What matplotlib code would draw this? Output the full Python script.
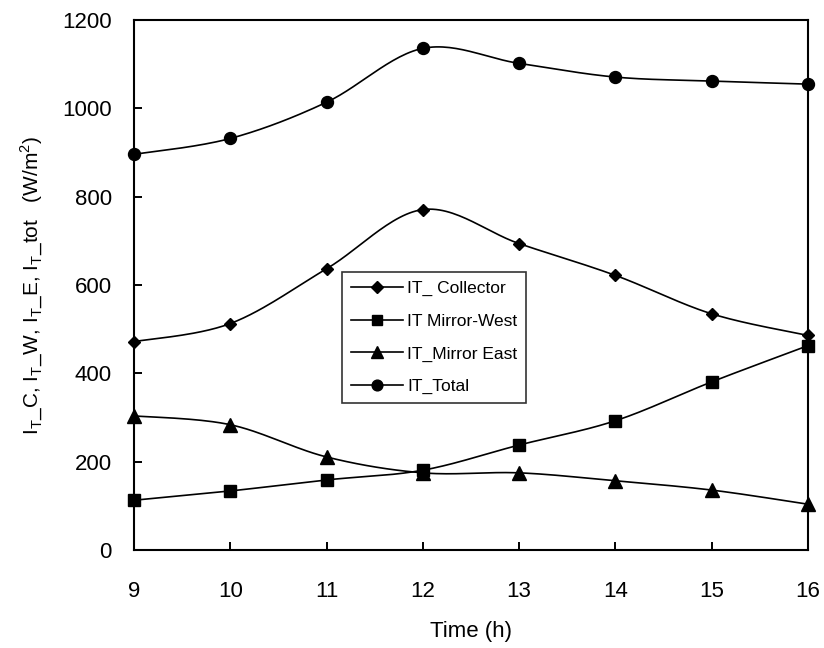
import numpy as np
import matplotlib.pyplot as plt

plt.rcParams['font.family'] = ['Liberation Sans', 'DejaVu Sans']

hours = [9, 10, 11, 12, 13, 14, 15, 16]
it_collector = [472, 513, 637, 771, 694, 622, 535, 486]
it_mirror_west = [113, 134, 159, 181, 238, 293, 381, 463]
it_mirror_east = [304, 284, 211, 175, 175, 157, 136, 104]
it_total = [896, 932, 1014, 1136, 1102, 1071, 1062, 1055]


def smooth(x, y, n=30):
    # Excel-like smoothed line (Catmull-Rom through the points)
    x = np.asarray(x, float)
    y = np.asarray(y, float)
    px = np.concatenate([[x[0]], x, [x[-1]]])
    py = np.concatenate([[y[0]], y, [y[-1]]])
    xs, ys = [], []
    t = np.linspace(0, 1, n)
    for i in range(1, len(px) - 2):
        p0 = np.array([px[i], py[i]])
        p3 = np.array([px[i + 1], py[i + 1]])
        c1 = p0 + (p3 - np.array([px[i - 1], py[i - 1]])) / 6
        c2 = p3 - (np.array([px[i + 2], py[i + 2]]) - p0) / 6
        b = ((1 - t) ** 3)[:, None] * p0 + (3 * (1 - t) ** 2 * t)[:, None] * c1 \
            + (3 * (1 - t) * t ** 2)[:, None] * c2 + (t ** 3)[:, None] * p3
        xs.extend(b[:, 0])
        ys.extend(b[:, 1])
    return xs, ys


fig = plt.figure(figsize=(8.24, 6.48), dpi=100)
ax = fig.add_axes([0.1626, 0.151, 0.818, 0.818])

series = [
    (it_collector, 'D', 6.3, 'IT_ Collector'),
    (it_mirror_west, 's', 8, 'IT Mirror-West'),
    (it_mirror_east, '^', 9.5, 'IT_Mirror East'),
    (it_total, 'o', 8.6, 'IT_Total'),
]
for vals, mk, ms, lab in series:
    sx, sy = smooth(hours, vals)
    ax.plot(sx, sy, color='black', lw=1.2)
    ax.plot(hours, vals, linestyle='none', marker=mk, ms=ms, color='black', clip_on=False, zorder=3)
    ax.plot([], [], color='black', lw=1.2, marker=mk, ms=ms * 0.9, label=lab)

ax.set_xlim(9, 16)
ax.set_ylim(0, 1200)
ax.set_xticks(hours)
ax.set_yticks(range(0, 1201, 200))
ax.tick_params(direction='in', length=6, width=1.4, labelsize=16)
ax.tick_params(axis='y', pad=16)
ax.tick_params(axis='x', pad=22)
for s in ax.spines.values():
    s.set_linewidth(1.5)

ax.set_xlabel('Time (h)', fontsize=16, labelpad=14)
ax.set_ylabel(r'I$_\mathregular{T}$_C, I$_\mathregular{T}$_W, I$_\mathregular{T}$_E, '
              r'I$_\mathregular{T}$_tot   (W/m$^\mathregular{2}$)', fontsize=15, labelpad=12)

leg = ax.legend(loc='upper left', bbox_to_anchor=(0.309, 0.524), fontsize=12.5,
                frameon=True, fancybox=False, edgecolor='black', handlelength=3.0,
                handletextpad=0.25, borderpad=0.5, labelspacing=1.0, borderaxespad=0)
leg.get_frame().set_linewidth(1.2)

fig.savefig('out.png', dpi=100)
